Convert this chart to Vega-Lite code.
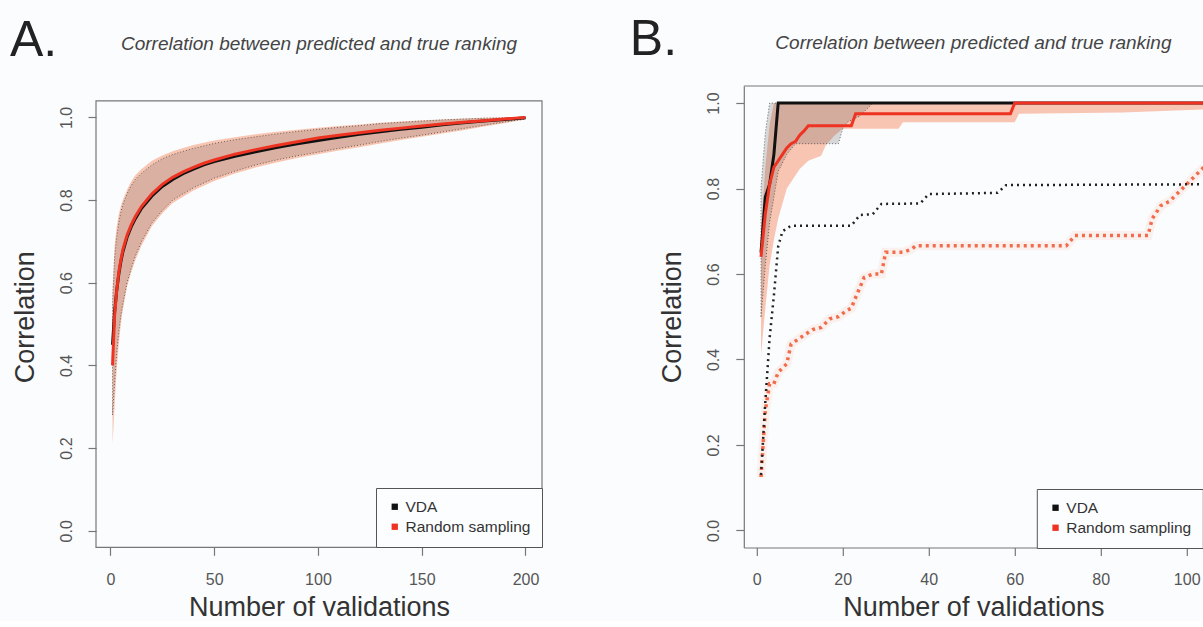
{
  "$schema": "https://vega.github.io/schema/vega-lite/v6.json",
  "background": "#fbfcfe",
  "padding": {"left": 10, "top": 14, "right": 0, "bottom": 0},
  "spacing": 86.8,
  "config": {
    "font": "Liberation Sans",
    "view": {"stroke": null},
    "axis": {
      "labelFont": "Liberation Sans", "labelFontSize": 16, "labelColor": "#555555",
      "titleFont": "Liberation Sans", "titleFontSize": 27, "titleFontWeight": "normal", "titleColor": "#333333",
      "tickColor": "#777777", "domainColor": "#777777", "tickSize": 8, "tickWidth": 1.2, "domainWidth": 1.2, "grid": false
    },
    "axisX": {"labelPadding": 16, "titlePadding": 7},
    "axisY": {"labelAngle": -90, "labelAlign": "center", "labelBaseline": "alphabetic", "labelPadding": 17, "titlePadding": 19},
    "title": {"anchor": "middle", "frame": "group", "fontSize": 19, "fontStyle": "italic", "fontWeight": "normal", "color": "#444444", "offset": 32.5, "baseline": "bottom", "font": "Liberation Sans"},
    "legend": {
      "orient": "bottom-right", "offset": 0, "title": null, "labelFont": "Liberation Sans", "labelFontSize": 15.5, "labelColor": "#333333",
      "symbolType": "square", "symbolSize": 40, "symbolStrokeWidth": 0, "strokeColor": "#555555", "fillColor": "#fcfdff",
      "padding": 11, "rowPadding": 3, "labelOffset": 3
    }
  },
  "resolve": {"scale": {"x": "independent", "y": "independent", "color": "independent"}, "legend": {"color": "independent"}},
  "datasets": {
    "A_mean": [
      {"method": "VDA", "x": 1, "y": 0.45}, {"method": "VDA", "x": 2, "y": 0.53}, {"method": "VDA", "x": 3, "y": 0.58}, {"method": "VDA", "x": 4, "y": 0.62},
      {"method": "VDA", "x": 5, "y": 0.65}, {"method": "VDA", "x": 6, "y": 0.675}, {"method": "VDA", "x": 8, "y": 0.71}, {"method": "VDA", "x": 10, "y": 0.735},
      {"method": "VDA", "x": 12, "y": 0.755}, {"method": "VDA", "x": 15, "y": 0.78}, {"method": "VDA", "x": 20, "y": 0.81}, {"method": "VDA", "x": 25, "y": 0.833},
      {"method": "VDA", "x": 30, "y": 0.85}, {"method": "VDA", "x": 35, "y": 0.864}, {"method": "VDA", "x": 40, "y": 0.875}, {"method": "VDA", "x": 45, "y": 0.885},
      {"method": "VDA", "x": 50, "y": 0.893}, {"method": "VDA", "x": 60, "y": 0.906}, {"method": "VDA", "x": 70, "y": 0.917}, {"method": "VDA", "x": 80, "y": 0.927},
      {"method": "VDA", "x": 90, "y": 0.936}, {"method": "VDA", "x": 100, "y": 0.944}, {"method": "VDA", "x": 110, "y": 0.952}, {"method": "VDA", "x": 120, "y": 0.959},
      {"method": "VDA", "x": 130, "y": 0.965}, {"method": "VDA", "x": 140, "y": 0.971}, {"method": "VDA", "x": 150, "y": 0.976}, {"method": "VDA", "x": 160, "y": 0.982},
      {"method": "VDA", "x": 170, "y": 0.987}, {"method": "VDA", "x": 180, "y": 0.991}, {"method": "VDA", "x": 190, "y": 0.995}, {"method": "VDA", "x": 200, "y": 0.999},
      {"method": "Random sampling", "x": 1, "y": 0.40}, {"method": "Random sampling", "x": 2, "y": 0.52}, {"method": "Random sampling", "x": 3, "y": 0.58},
      {"method": "Random sampling", "x": 4, "y": 0.625}, {"method": "Random sampling", "x": 5, "y": 0.655}, {"method": "Random sampling", "x": 6, "y": 0.68},
      {"method": "Random sampling", "x": 8, "y": 0.715}, {"method": "Random sampling", "x": 10, "y": 0.74}, {"method": "Random sampling", "x": 12, "y": 0.76},
      {"method": "Random sampling", "x": 15, "y": 0.785}, {"method": "Random sampling", "x": 20, "y": 0.815}, {"method": "Random sampling", "x": 25, "y": 0.838},
      {"method": "Random sampling", "x": 30, "y": 0.855}, {"method": "Random sampling", "x": 35, "y": 0.868}, {"method": "Random sampling", "x": 40, "y": 0.879},
      {"method": "Random sampling", "x": 45, "y": 0.889}, {"method": "Random sampling", "x": 50, "y": 0.897}, {"method": "Random sampling", "x": 60, "y": 0.911},
      {"method": "Random sampling", "x": 70, "y": 0.922}, {"method": "Random sampling", "x": 80, "y": 0.932}, {"method": "Random sampling", "x": 90, "y": 0.941},
      {"method": "Random sampling", "x": 100, "y": 0.95}, {"method": "Random sampling", "x": 110, "y": 0.957}, {"method": "Random sampling", "x": 120, "y": 0.963},
      {"method": "Random sampling", "x": 130, "y": 0.969}, {"method": "Random sampling", "x": 140, "y": 0.974}, {"method": "Random sampling", "x": 150, "y": 0.979},
      {"method": "Random sampling", "x": 160, "y": 0.984}, {"method": "Random sampling", "x": 170, "y": 0.988}, {"method": "Random sampling", "x": 180, "y": 0.992},
      {"method": "Random sampling", "x": 190, "y": 0.996}, {"method": "Random sampling", "x": 200, "y": 1.0}
    ],
    "A_band": [
      {"method": "VDA", "x": 1, "lo": 0.28, "hi": 0.55}, {"method": "VDA", "x": 2, "lo": 0.36, "hi": 0.66}, {"method": "VDA", "x": 3, "lo": 0.43, "hi": 0.71},
      {"method": "VDA", "x": 4, "lo": 0.48, "hi": 0.745}, {"method": "VDA", "x": 5, "lo": 0.52, "hi": 0.77}, {"method": "VDA", "x": 6, "lo": 0.55, "hi": 0.79},
      {"method": "VDA", "x": 8, "lo": 0.60, "hi": 0.815}, {"method": "VDA", "x": 10, "lo": 0.635, "hi": 0.835}, {"method": "VDA", "x": 12, "lo": 0.665, "hi": 0.85},
      {"method": "VDA", "x": 15, "lo": 0.70, "hi": 0.865}, {"method": "VDA", "x": 20, "lo": 0.745, "hi": 0.885}, {"method": "VDA", "x": 25, "lo": 0.775, "hi": 0.90},
      {"method": "VDA", "x": 30, "lo": 0.80, "hi": 0.91}, {"method": "VDA", "x": 35, "lo": 0.815, "hi": 0.918}, {"method": "VDA", "x": 40, "lo": 0.83, "hi": 0.925},
      {"method": "VDA", "x": 50, "lo": 0.853, "hi": 0.937}, {"method": "VDA", "x": 60, "lo": 0.87, "hi": 0.946}, {"method": "VDA", "x": 70, "lo": 0.885, "hi": 0.953},
      {"method": "VDA", "x": 80, "lo": 0.897, "hi": 0.96}, {"method": "VDA", "x": 90, "lo": 0.907, "hi": 0.966}, {"method": "VDA", "x": 100, "lo": 0.916, "hi": 0.971},
      {"method": "VDA", "x": 110, "lo": 0.925, "hi": 0.976}, {"method": "VDA", "x": 120, "lo": 0.933, "hi": 0.98}, {"method": "VDA", "x": 130, "lo": 0.942, "hi": 0.985},
      {"method": "VDA", "x": 140, "lo": 0.95, "hi": 0.988}, {"method": "VDA", "x": 150, "lo": 0.957, "hi": 0.991}, {"method": "VDA", "x": 160, "lo": 0.965, "hi": 0.994},
      {"method": "VDA", "x": 170, "lo": 0.973, "hi": 0.996}, {"method": "VDA", "x": 180, "lo": 0.981, "hi": 0.998}, {"method": "VDA", "x": 190, "lo": 0.989, "hi": 0.999},
      {"method": "VDA", "x": 200, "lo": 0.996, "hi": 1.0},
      {"method": "Random sampling", "x": 1, "lo": 0.21, "hi": 0.58}, {"method": "Random sampling", "x": 2, "lo": 0.30, "hi": 0.69},
      {"method": "Random sampling", "x": 3, "lo": 0.39, "hi": 0.735}, {"method": "Random sampling", "x": 4, "lo": 0.45, "hi": 0.765},
      {"method": "Random sampling", "x": 5, "lo": 0.50, "hi": 0.785}, {"method": "Random sampling", "x": 6, "lo": 0.535, "hi": 0.80},
      {"method": "Random sampling", "x": 8, "lo": 0.59, "hi": 0.825}, {"method": "Random sampling", "x": 10, "lo": 0.625, "hi": 0.845},
      {"method": "Random sampling", "x": 12, "lo": 0.655, "hi": 0.86}, {"method": "Random sampling", "x": 15, "lo": 0.69, "hi": 0.875},
      {"method": "Random sampling", "x": 20, "lo": 0.737, "hi": 0.895}, {"method": "Random sampling", "x": 25, "lo": 0.768, "hi": 0.908},
      {"method": "Random sampling", "x": 30, "lo": 0.793, "hi": 0.918}, {"method": "Random sampling", "x": 35, "lo": 0.808, "hi": 0.926},
      {"method": "Random sampling", "x": 40, "lo": 0.823, "hi": 0.933}, {"method": "Random sampling", "x": 50, "lo": 0.846, "hi": 0.944},
      {"method": "Random sampling", "x": 60, "lo": 0.864, "hi": 0.952}, {"method": "Random sampling", "x": 70, "lo": 0.879, "hi": 0.959},
      {"method": "Random sampling", "x": 80, "lo": 0.891, "hi": 0.965}, {"method": "Random sampling", "x": 90, "lo": 0.902, "hi": 0.97},
      {"method": "Random sampling", "x": 100, "lo": 0.911, "hi": 0.975}, {"method": "Random sampling", "x": 110, "lo": 0.92, "hi": 0.979},
      {"method": "Random sampling", "x": 120, "lo": 0.928, "hi": 0.983}, {"method": "Random sampling", "x": 130, "lo": 0.937, "hi": 0.987},
      {"method": "Random sampling", "x": 140, "lo": 0.945, "hi": 0.99}, {"method": "Random sampling", "x": 150, "lo": 0.953, "hi": 0.993},
      {"method": "Random sampling", "x": 160, "lo": 0.961, "hi": 0.995}, {"method": "Random sampling", "x": 170, "lo": 0.969, "hi": 0.997},
      {"method": "Random sampling", "x": 180, "lo": 0.978, "hi": 0.999}, {"method": "Random sampling", "x": 190, "lo": 0.986, "hi": 1.0},
      {"method": "Random sampling", "x": 200, "lo": 0.995, "hi": 1.0}
    ],
    "B_mean": [
      {"method": "VDA", "x": 1, "y": 0.65}, {"method": "VDA", "x": 2, "y": 0.78}, {"method": "VDA", "x": 3, "y": 0.81}, {"method": "VDA", "x": 4, "y": 0.88},
      {"method": "VDA", "x": 5, "y": 1.0}, {"method": "VDA", "x": 104, "y": 1.0},
      {"method": "Random sampling", "x": 1, "y": 0.64}, {"method": "Random sampling", "x": 2, "y": 0.74}, {"method": "Random sampling", "x": 3, "y": 0.81},
      {"method": "Random sampling", "x": 4, "y": 0.85}, {"method": "Random sampling", "x": 5, "y": 0.865}, {"method": "Random sampling", "x": 6, "y": 0.88},
      {"method": "Random sampling", "x": 7, "y": 0.895}, {"method": "Random sampling", "x": 8, "y": 0.905}, {"method": "Random sampling", "x": 9, "y": 0.91},
      {"method": "Random sampling", "x": 10, "y": 0.925}, {"method": "Random sampling", "x": 11, "y": 0.935}, {"method": "Random sampling", "x": 12, "y": 0.947},
      {"method": "Random sampling", "x": 22, "y": 0.947}, {"method": "Random sampling", "x": 23, "y": 0.975}, {"method": "Random sampling", "x": 59, "y": 0.975},
      {"method": "Random sampling", "x": 60, "y": 1.0}, {"method": "Random sampling", "x": 104, "y": 1.0}
    ],
    "B_band": [
      {"method": "VDA", "x": 1, "lo": 0.50, "hi": 0.80}, {"method": "VDA", "x": 2, "lo": 0.62, "hi": 0.93}, {"method": "VDA", "x": 3, "lo": 0.72, "hi": 1.0},
      {"method": "VDA", "x": 4, "lo": 0.78, "hi": 1.0}, {"method": "VDA", "x": 5, "lo": 0.84, "hi": 1.0}, {"method": "VDA", "x": 7, "lo": 0.88, "hi": 1.0},
      {"method": "VDA", "x": 9, "lo": 0.905, "hi": 1.0}, {"method": "VDA", "x": 19, "lo": 0.905, "hi": 1.0}, {"method": "VDA", "x": 20, "lo": 0.94, "hi": 1.0},
      {"method": "VDA", "x": 21, "lo": 0.955, "hi": 1.0}, {"method": "VDA", "x": 24, "lo": 0.97, "hi": 1.0}, {"method": "VDA", "x": 27, "lo": 1.0, "hi": 1.0},
      {"method": "Random sampling", "x": 1, "lo": 0.41, "hi": 0.70}, {"method": "Random sampling", "x": 2, "lo": 0.52, "hi": 0.85},
      {"method": "Random sampling", "x": 3, "lo": 0.62, "hi": 0.95}, {"method": "Random sampling", "x": 4, "lo": 0.68, "hi": 1.0},
      {"method": "Random sampling", "x": 5, "lo": 0.73, "hi": 1.0}, {"method": "Random sampling", "x": 7, "lo": 0.80, "hi": 1.0},
      {"method": "Random sampling", "x": 10, "lo": 0.846, "hi": 1.0}, {"method": "Random sampling", "x": 12, "lo": 0.865, "hi": 1.0},
      {"method": "Random sampling", "x": 15, "lo": 0.877, "hi": 1.0}, {"method": "Random sampling", "x": 16, "lo": 0.90, "hi": 1.0},
      {"method": "Random sampling", "x": 18, "lo": 0.923, "hi": 1.0}, {"method": "Random sampling", "x": 20, "lo": 0.94, "hi": 1.0},
      {"method": "Random sampling", "x": 33, "lo": 0.94, "hi": 1.0}, {"method": "Random sampling", "x": 34, "lo": 0.955, "hi": 1.0},
      {"method": "Random sampling", "x": 60, "lo": 0.955, "hi": 1.0}, {"method": "Random sampling", "x": 61, "lo": 0.975, "hi": 1.0},
      {"method": "Random sampling", "x": 85, "lo": 0.978, "hi": 1.0}, {"method": "Random sampling", "x": 104, "lo": 0.985, "hi": 1.0}
    ],
    "B_worst": [
      {"method": "VDA", "x": 1, "y": 0.13}, {"method": "VDA", "x": 2, "y": 0.30}, {"method": "VDA", "x": 3, "y": 0.45}, {"method": "VDA", "x": 4, "y": 0.55},
      {"method": "VDA", "x": 5, "y": 0.665}, {"method": "VDA", "x": 6, "y": 0.70}, {"method": "VDA", "x": 8, "y": 0.713}, {"method": "VDA", "x": 22, "y": 0.713},
      {"method": "VDA", "x": 24, "y": 0.738}, {"method": "VDA", "x": 27, "y": 0.74}, {"method": "VDA", "x": 29, "y": 0.764}, {"method": "VDA", "x": 38, "y": 0.765},
      {"method": "VDA", "x": 40, "y": 0.787}, {"method": "VDA", "x": 56, "y": 0.79}, {"method": "VDA", "x": 58, "y": 0.808}, {"method": "VDA", "x": 104, "y": 0.81},
      {"method": "Random sampling", "x": 1, "y": 0.125}, {"method": "Random sampling", "x": 2, "y": 0.28}, {"method": "Random sampling", "x": 3, "y": 0.343},
      {"method": "Random sampling", "x": 4, "y": 0.343}, {"method": "Random sampling", "x": 5, "y": 0.37}, {"method": "Random sampling", "x": 7, "y": 0.39},
      {"method": "Random sampling", "x": 8, "y": 0.436}, {"method": "Random sampling", "x": 10, "y": 0.45}, {"method": "Random sampling", "x": 13, "y": 0.47},
      {"method": "Random sampling", "x": 15, "y": 0.475}, {"method": "Random sampling", "x": 17, "y": 0.495}, {"method": "Random sampling", "x": 19, "y": 0.50},
      {"method": "Random sampling", "x": 21, "y": 0.515}, {"method": "Random sampling", "x": 22, "y": 0.52}, {"method": "Random sampling", "x": 23, "y": 0.545},
      {"method": "Random sampling", "x": 25, "y": 0.592}, {"method": "Random sampling", "x": 27, "y": 0.60}, {"method": "Random sampling", "x": 29, "y": 0.60},
      {"method": "Random sampling", "x": 30, "y": 0.651}, {"method": "Random sampling", "x": 34, "y": 0.651}, {"method": "Random sampling", "x": 36, "y": 0.658},
      {"method": "Random sampling", "x": 37, "y": 0.666}, {"method": "Random sampling", "x": 72, "y": 0.666}, {"method": "Random sampling", "x": 74, "y": 0.69},
      {"method": "Random sampling", "x": 91, "y": 0.69}, {"method": "Random sampling", "x": 92, "y": 0.73}, {"method": "Random sampling", "x": 94, "y": 0.76},
      {"method": "Random sampling", "x": 96, "y": 0.77}, {"method": "Random sampling", "x": 98, "y": 0.79}, {"method": "Random sampling", "x": 100, "y": 0.81},
      {"method": "Random sampling", "x": 102, "y": 0.83}, {"method": "Random sampling", "x": 104, "y": 0.85}
    ],
    "frame": [{"id": "box"}]
  },
  "hconcat": [
    {
      "title": {"text": "A.", "anchor": "start", "fontSize": 50, "fontStyle": "normal", "color": "#222222", "dx": -86, "dy": 71, "offset": 0, "baseline": "alphabetic"},
      "resolve": {"scale": {"color": "independent"}, "legend": {"color": "independent"}},
      "hconcat": [
        {
          "width": 446, "height": 461.3,
          "view": {"stroke": null},
          "title": "Correlation between predicted and true ranking",
          "layer": [
            {
              "data": {"name": "A_band"},
              "transform": [{"filter": "datum.method === 'Random sampling'"}],
              "mark": {"type": "area", "fill": "#f5ae92", "fillOpacity": 0.7},
              "encoding": {
                "x": {"field": "x", "type": "quantitative", "scale": {"domain": [-6.96, 207.96], "nice": false, "zero": false},
                      "axis": {"values": [0, 50, 100, 150, 200], "domain": false, "title": "Number of validations"}},
                "y": {"field": "lo", "type": "quantitative", "scale": {"domain": [-0.04, 1.0759], "nice": false, "zero": false},
                      "axis": {"values": [0, 0.2, 0.4, 0.6, 0.8, 1.0], "format": ".1f", "domain": false, "title": "Correlation"}},
                "y2": {"field": "hi"}
              }
            },
            {
              "data": {"name": "A_band"},
              "transform": [{"filter": "datum.method === 'VDA'"}],
              "mark": {"type": "area", "fill": "#555555", "fillOpacity": 0.18, "stroke": "#333333", "strokeOpacity": 0.7, "strokeWidth": 1, "strokeDash": [1, 2]},
              "encoding": {
                "x": {"field": "x", "type": "quantitative"},
                "y": {"field": "lo", "type": "quantitative"},
                "y2": {"field": "hi"}
              }
            },
            {
              "data": {"name": "A_mean"},
              "mark": {"type": "line", "strokeWidth": 3},
              "encoding": {
                "x": {"field": "x", "type": "quantitative"},
                "y": {"field": "y", "type": "quantitative"},
                "color": {"field": "method", "type": "nominal", "scale": {"domain": ["VDA", "Random sampling"], "range": ["#111111", "#ee3322"]},
                          "legend": {"encode": {"symbols": {"update": {"fill": {"signal": "datum.value === 'VDA' ? '#111111' : '#ee3322'"}, "opacity": {"value": 1}}}}}}
              }
            },
            {
              "data": {"name": "frame"},
              "mark": {"type": "rect", "filled": false, "stroke": "#777777", "strokeWidth": 1.2},
              "encoding": {
                "x": {"datum": -6.96, "type": "quantitative"},
                "x2": {"datum": 207.96},
                "y": {"datum": -0.04, "type": "quantitative"},
                "y2": {"datum": 1.04}
              }
            }
          ]
        }
      ]
    },
    {
      "title": {"text": "B.", "anchor": "start", "fontSize": 50, "fontStyle": "normal", "color": "#222222", "dx": -114, "dy": 71, "offset": 0, "baseline": "alphabetic"},
      "resolve": {"scale": {"color": "independent"}, "legend": {"color": "independent"}},
      "hconcat": [
        {
          "width": 459.2, "height": 461.5,
          "view": {"stroke": null},
          "title": "Correlation between predicted and true ranking",
          "layer": [
            {
              "data": {"name": "B_band"},
              "transform": [{"filter": "datum.method === 'Random sampling'"}],
              "mark": {"type": "area", "fill": "#f8b7a0", "fillOpacity": 0.8, "clip": true},
              "encoding": {
                "x": {"field": "x", "type": "quantitative", "scale": {"domain": [-3, 103.79], "nice": false, "zero": false},
                      "axis": {"values": [0, 20, 40, 60, 80, 100], "title": "Number of validations"}},
                "y": {"field": "lo", "type": "quantitative", "scale": {"domain": [-0.04, 1.04], "nice": false, "zero": false},
                      "axis": {"values": [0, 0.2, 0.4, 0.6, 0.8, 1.0], "format": ".1f", "title": "Correlation"}},
                "y2": {"field": "hi"}
              }
            },
            {
              "data": {"name": "B_band"},
              "transform": [{"filter": "datum.method === 'VDA'"}],
              "mark": {"type": "area", "fill": "#555555", "fillOpacity": 0.22, "stroke": "#333333", "strokeOpacity": 0.7, "strokeWidth": 1, "strokeDash": [1, 2]},
              "encoding": {
                "x": {"field": "x", "type": "quantitative"},
                "y": {"field": "lo", "type": "quantitative"},
                "y2": {"field": "hi"}
              }
            },
            {
              "data": {"name": "B_worst"},
              "transform": [{"filter": "datum.method === 'Random sampling'"}],
              "mark": {"type": "line", "stroke": "#f7a186", "strokeWidth": 9, "strokeOpacity": 0.12, "clip": true},
              "encoding": {
                "x": {"field": "x", "type": "quantitative"},
                "y": {"field": "y", "type": "quantitative"}
              }
            },
            {
              "data": {"name": "B_worst"},
              "transform": [{"filter": "datum.method === 'Random sampling'"}],
              "mark": {"type": "line", "stroke": "#f26b4a", "strokeWidth": 3.5, "strokeDash": [3, 4], "clip": true},
              "encoding": {
                "x": {"field": "x", "type": "quantitative"},
                "y": {"field": "y", "type": "quantitative"}
              }
            },
            {
              "data": {"name": "B_worst"},
              "transform": [{"filter": "datum.method === 'VDA'"}],
              "mark": {"type": "line", "stroke": "#222222", "strokeWidth": 2.5, "strokeDash": [2, 4], "clip": true},
              "encoding": {
                "x": {"field": "x", "type": "quantitative"},
                "y": {"field": "y", "type": "quantitative"}
              }
            },
            {
              "data": {"name": "B_mean"},
              "mark": {"type": "line", "strokeWidth": 3, "clip": true},
              "encoding": {
                "x": {"field": "x", "type": "quantitative"},
                "y": {"field": "y", "type": "quantitative"},
                "color": {"field": "method", "type": "nominal", "scale": {"domain": ["VDA", "Random sampling"], "range": ["#111111", "#ee3322"]},
                          "legend": {"encode": {"symbols": {"update": {"fill": {"signal": "datum.value === 'VDA' ? '#111111' : '#ee3322'"}, "opacity": {"value": 1}}}}}}
              }
            },
            {
              "data": {"name": "frame"},
              "mark": {"type": "rule", "color": "#777777", "strokeWidth": 1.2},
              "encoding": {
                "y": {"datum": 1.04, "type": "quantitative"}
              }
            }
          ]
        }
      ]
    }
  ]
}
